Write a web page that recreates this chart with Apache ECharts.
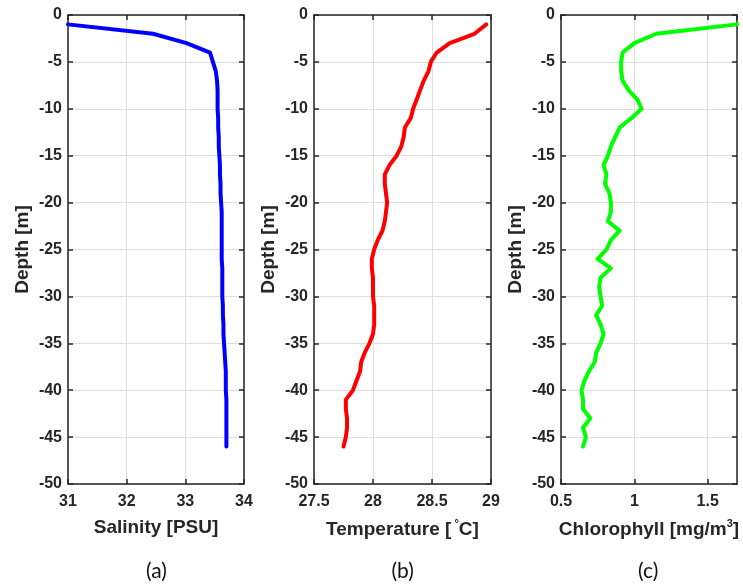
<!DOCTYPE html>
<html>
<head>
<meta charset="utf-8">
<script src="https://cdn.jsdelivr.net/npm/echarts@6/dist/echarts.min.js"></script>
<style>html,body{margin:0;padding:0;background:#fff}#c{width:743px;height:587px}</style>
</head>
<body>
<div id="c"></div>
<script>
var depth = [-1,-2,-3,-4,-5,-6,-7,-8,-9,-10,-11,-12,-13,-14,-15,-16,-17,-18,-19,-20,-21,-22,-23,-24,-25,-26,-27,-28,-29,-30,-31,-32,-33,-34,-35,-36,-37,-38,-39,-40,-41,-42,-43,-44,-45,-46];
var salinity = [31.0,32.45,33.02,33.42,33.47,33.52,33.54,33.55,33.55,33.55,33.56,33.56,33.57,33.57,33.58,33.59,33.59,33.60,33.60,33.61,33.62,33.62,33.62,33.62,33.62,33.62,33.63,33.63,33.63,33.63,33.64,33.64,33.65,33.65,33.66,33.67,33.68,33.69,33.69,33.69,33.70,33.70,33.70,33.70,33.70,33.70];
var temperature = [28.96,28.86,28.65,28.54,28.49,28.47,28.43,28.40,28.37,28.34,28.32,28.27,28.26,28.24,28.20,28.14,28.10,28.10,28.11,28.12,28.11,28.10,28.08,28.04,28.01,27.99,27.99,28.0,28.0,28.0,28.01,28.01,28.01,28.0,27.97,27.93,27.90,27.89,27.86,27.83,27.77,27.77,27.78,27.78,27.77,27.75];
var chlorophyll = [1.70,1.15,1.0,0.92,0.91,0.91,0.92,0.96,1.02,1.05,0.98,0.90,0.87,0.84,0.82,0.79,0.81,0.80,0.83,0.84,0.84,0.82,0.90,0.84,0.81,0.75,0.84,0.77,0.76,0.77,0.78,0.74,0.77,0.79,0.77,0.74,0.73,0.69,0.66,0.64,0.65,0.65,0.70,0.65,0.67,0.65];
var panelNames = ['Salinity [PSU]', 'Temperature [{sup| °}C]', 'Chlorophyll [mg/m{sup|3}]'];
var captions = ['(a)', '(b)', '(c)'];
var xMin = [31, 27.5, 0.5], xMax = [34, 29, 1.7], xInt = [1, 0.5, 0.5];
var yMin = -50, yMax = 0, yInt = 5;
var colors = ['#0000ff', '#ff0000', '#00ff00'];
var seriesValues = [salinity, temperature, chlorophyll];

var grids = [{left:68,width:176,top:15,height:469},{left:314,width:177,top:15,height:469},{left:561,width:176,top:15,height:469}];
var txt = '#262626';
var lineStyle = {color: txt, width: 1.5};
var xAxes = [], yAxes = [], series = [], graphics = [];
for (var i = 0; i < 3; i++) {
  xAxes.push({type:'value', gridIndex:i, position:'bottom', min:xMin[i], max:xMax[i], interval:xInt[i],
    axisLine:{show:true, lineStyle:lineStyle, onZero:false}, axisTick:{show:true, inside:true, length:5, lineStyle:lineStyle},
    axisLabel:{color:txt, fontSize:16, fontWeight:'bold', fontFamily:'Liberation Sans, Arial', margin:10, showMaxLabel: i===2 ? false : true},
    splitLine:{show:true, lineStyle:{color:'#dedede', width:1}},
    name: panelNames[i], nameLocation:'middle', nameGap:34,
    nameTextStyle:{color:txt, fontSize:19, fontWeight:'bold', fontFamily:'Liberation Sans, Arial',
      rich:{sup:{fontSize:11, fontWeight:'bold', color:txt, fontFamily:'Liberation Sans, Arial', verticalAlign:'top', padding:[0,0,12,0]}}}
  });
  xAxes.push({type:'value', gridIndex:i, position:'top', min:xMin[i], max:xMax[i], interval:xInt[i],
    axisLine:{show:true, lineStyle:lineStyle, onZero:false}, axisTick:{show:true, inside:true, length:5, lineStyle:lineStyle},
    axisLabel:{show:false}, splitLine:{show:false}});
  yAxes.push({type:'value', gridIndex:i, position:'left', min:yMin, max:yMax, interval:yInt,
    axisLine:{show:true, lineStyle:lineStyle, onZero:false}, axisTick:{show:true, inside:true, length:5, lineStyle:lineStyle},
    axisLabel:{color:txt, fontSize:16, fontWeight:'bold', fontFamily:'Liberation Sans, Arial', margin:6},
    splitLine:{show:true, lineStyle:{color:'#dedede', width:1}},
    name:'Depth [m]', nameLocation:'middle', nameGap:36,
    nameTextStyle:{color:txt, fontSize:19, fontWeight:'bold', fontFamily:'Liberation Sans, Arial'}
  });
  yAxes.push({type:'value', gridIndex:i, position:'right', min:yMin, max:yMax, interval:yInt,
    axisLine:{show:true, lineStyle:lineStyle, onZero:false}, axisTick:{show:true, inside:true, length:5, lineStyle:lineStyle},
    axisLabel:{show:false}, splitLine:{show:false}});
  var data = [];
  for (var k = 0; k < depth.length; k++) data.push([seriesValues[i][k], depth[k]]);
  series.push({type:'line', xAxisIndex:2*i, yAxisIndex:2*i, data:data, showSymbol:false, symbol:'none',
    lineStyle:{color:colors[i], width:4, join:'round', cap:'round'}, itemStyle:{color:colors[i]}, animation:false});
  graphics.push({type:'text', left: grids[i].left + grids[i].width/2 - 11 - (i===0?-1:0), top: 561,
    style:{text:captions[i], fill:'#111', font:'21px Lato, "Open Sans", sans-serif'}});
}
var chart = echarts.init(document.getElementById('c'));
chart.setOption({animation:false, grid:grids, xAxis:xAxes, yAxis:yAxes, series:series, graphic:graphics});
</script>
</body>
</html>
